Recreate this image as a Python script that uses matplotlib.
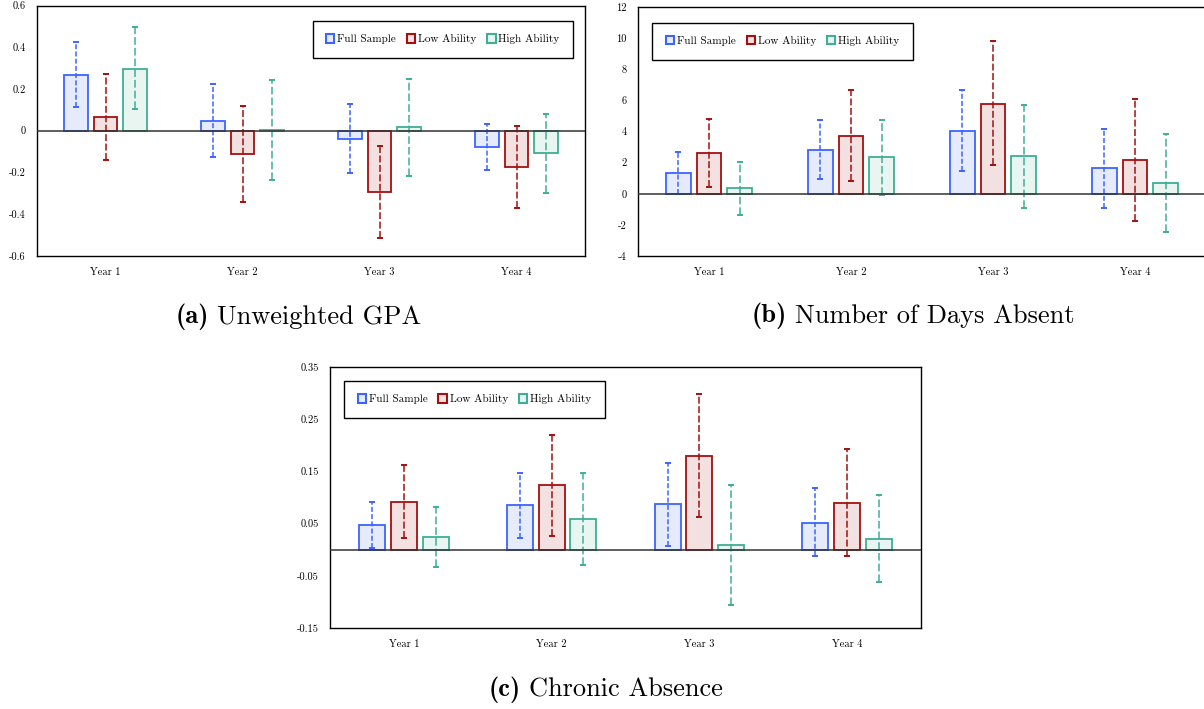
import matplotlib
matplotlib.use("Agg")
import matplotlib.pyplot as plt
from matplotlib.patches import Patch
from matplotlib.ticker import FuncFormatter
import numpy as np

plt.rcParams['font.family'] = ['cmr10', 'DejaVu Serif']
plt.rcParams['axes.unicode_minus'] = False
plt.rcParams['axes.formatter.use_mathtext'] = True
plt.rcParams['lines.scale_dashes'] = False

years = ["Year 1", "Year 2", "Year 3", "Year 4"]
groups = ["Full Sample", "Low Ability", "High Ability"]

# (a) Unweighted GPA
gpa_full = [0.268, 0.048, -0.039, -0.077]
gpa_full_lo = [0.113, -0.127, -0.203, -0.187]
gpa_full_hi = [0.426, 0.223, 0.126, 0.034]
gpa_low = [0.068, -0.111, -0.295, -0.173]
gpa_low_lo = [-0.139, -0.339, -0.513, -0.371]
gpa_low_hi = [0.271, 0.119, -0.074, 0.024]
gpa_high = [0.298, 0.005, 0.016, -0.108]
gpa_high_lo = [0.102, -0.234, -0.218, -0.297]
gpa_high_hi = [0.497, 0.245, 0.247, 0.082]

# (b) Number of days absent
abs_full = [1.34, 2.83, 4.06, 1.64]
abs_full_lo = [-0.04, 0.97, 1.49, -0.91]
abs_full_hi = [2.68, 4.71, 6.66, 4.17]
abs_low = [2.59, 3.74, 5.79, 2.16]
abs_low_lo = [0.45, 0.80, 1.84, -1.73]
abs_low_hi = [4.78, 6.68, 9.79, 6.08]
abs_high = [0.37, 2.36, 2.44, 0.69]
abs_high_lo = [-1.34, -0.06, -0.91, -2.44]
abs_high_hi = [2.05, 4.74, 5.73, 3.83]

# (c) Chronic absence
chr_full = [0.048, 0.085, 0.087, 0.052]
chr_full_lo = [0.004, 0.022, 0.008, -0.013]
chr_full_hi = [0.092, 0.147, 0.166, 0.118]
chr_low = [0.092, 0.123, 0.180, 0.089]
chr_low_lo = [0.022, 0.027, 0.063, -0.013]
chr_low_hi = [0.163, 0.219, 0.298, 0.192]
chr_high = [0.024, 0.058, 0.009, 0.021]
chr_high_lo = [-0.033, -0.029, -0.105, -0.062]
chr_high_hi = [0.081, 0.146, 0.123, 0.104]

edge_cols = ["#3d64ff", "#a50f0f", "#3fae96"]
fill_cols = ["#e6ebfc", "#f2e1e0", "#e8f5f1"]
dash_styles = [(0, (3.6, 1.6)), (0, (5, 1.8)), (0, (5.5, 2.2))]


def draw_panel(ax, series, ylim, yticks, legend_loc, legend_anchor):
    x = np.arange(1, len(years) + 1)
    width = 0.175
    offsets = [-0.215, 0, 0.215]
    for i, (vals, lo, hi) in enumerate(series):
        xs = x + offsets[i]
        ax.bar(xs, vals, width, color=fill_cols[i], edgecolor=edge_cols[i],
               linewidth=1.3, zorder=2)
        for xx, l, h in zip(xs, lo, hi):
            ax.plot([xx, xx], [l, h], color=edge_cols[i], lw=1.1,
                    linestyle=dash_styles[i], zorder=3)
        ax.plot(xs, lo, linestyle='none', marker='_', ms=4.5, mew=1.4,
                color=edge_cols[i], zorder=3)
        ax.plot(xs, hi, linestyle='none', marker='_', ms=4.5, mew=1.4,
                color=edge_cols[i], zorder=3)
    ax.axhline(0, color='#333333', lw=1.1, zorder=4)
    ax.set_xlim(0.5, len(years) + 0.5)
    ax.set_ylim(*ylim)
    ax.set_yticks(yticks)
    ax.yaxis.set_major_formatter(FuncFormatter(lambda v, p: '%g' % round(v, 3)))
    ax.set_xticks(x)
    ax.set_xticklabels(years)
    ax.tick_params(length=0, labelsize=7.5, pad=8)
    for s in ax.spines.values():
        s.set_linewidth(1.0)
        s.set_color('black')
    handles = [Patch(facecolor=fill_cols[i], edgecolor=edge_cols[i], linewidth=1.5)
               for i in range(3)]
    leg = ax.legend(handles, groups, loc=legend_loc, bbox_to_anchor=legend_anchor,
                    ncol=3, fontsize=8, frameon=True, fancybox=False,
                    edgecolor='black', framealpha=1, borderpad=1.2,
                    handlelength=0.75, handleheight=0.75, handletextpad=0.25,
                    columnspacing=1.0, borderaxespad=0)
    leg.get_frame().set_linewidth(1.0)
    leg.set_zorder(5)


fig = plt.figure(figsize=(12.04, 7.09), dpi=100)
W, H = 1204.0, 709.0


def add_axes(l, r, t, b):
    return fig.add_axes([l / W, 1 - b / H, (r - l) / W, (b - t) / H])


ax_a = add_axes(37, 585, 5.5, 256)
ax_b = add_axes(638, 1206, 7, 256)
ax_c = add_axes(330, 921, 367, 628)

draw_panel(ax_a,
           [(gpa_full, gpa_full_lo, gpa_full_hi),
            (gpa_low, gpa_low_lo, gpa_low_hi),
            (gpa_high, gpa_high_lo, gpa_high_hi)],
           (-0.6, 0.6), [-0.6, -0.4, -0.2, 0, 0.2, 0.4, 0.6],
           'upper right', (0.978, 0.938))
draw_panel(ax_b,
           [(abs_full, abs_full_lo, abs_full_hi),
            (abs_low, abs_low_lo, abs_low_hi),
            (abs_high, abs_high_lo, abs_high_hi)],
           (-4, 12), [-4, -2, 0, 2, 4, 6, 8, 10, 12],
           'upper left', (0.025, 0.936))
draw_panel(ax_c,
           [(chr_full, chr_full_lo, chr_full_hi),
            (chr_low, chr_low_lo, chr_low_hi),
            (chr_high, chr_high_lo, chr_high_hi)],
           (-0.15, 0.35), [-0.15, -0.05, 0.05, 0.15, 0.25, 0.35],
           'upper left', (0.024, 0.946))

captions = [("(a)", "Unweighted GPA", 298, 317),
            ("(b)", "Number of Days Absent", 913, 316),
            ("(c)", "Chronic Absence", 606, 690)]
fs = 19
renderer = fig.canvas.get_renderer()
for lab, txt, cx, cy in captions:
    t1 = fig.text(0, 1 - cy / H, lab, fontsize=fs,
                  fontfamily=['cmb10', 'DejaVu Serif'], ha='left', va='center')
    t2 = fig.text(0, 1 - cy / H, txt, fontsize=fs, ha='left', va='center')
    w1 = t1.get_window_extent(renderer=renderer).width
    w2 = t2.get_window_extent(renderer=renderer).width
    gap = 8
    x0 = cx - (w1 + gap + w2) / 2
    t1.set_x(x0 / W)
    t2.set_x((x0 + w1 + gap) / W)

fig.savefig("out.png", dpi=100)
